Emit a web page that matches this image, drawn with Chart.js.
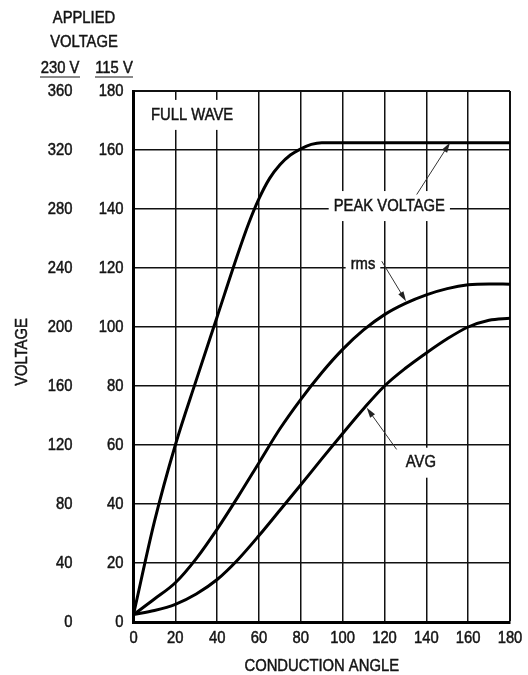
<!DOCTYPE html>
<html lang="en">
<head>
    <meta charset="UTF-8">
    <title>Applied voltage vs conduction angle</title>
    <script src="https://cdn.jsdelivr.net/npm/chart.js"></script>
    <style>
        html, body { margin: 0; padding: 0; background: #fff; }
        .wrap { position: relative; width: 528px; height: 675px; }
    </style>
</head>
<body>
    <div class="wrap">
        <canvas id="voltChart" width="528" height="675"></canvas>
    </div>

<script>
    // values (115 V scale)
    const angles = [0, 10, 20, 30, 40, 50, 60, 70, 80, 90, 100, 110, 120, 130, 140, 150, 160, 170, 180];

    const peakAngles = [0, 10, 20, 30, 40, 50, 55, 60, 65, 70, 75, 80, 85, 90, 120, 150, 180];
    const peakValues = [2.5, 34, 60, 82, 103.5, 125, 135, 143.5, 150.3, 155, 158.3, 160.4, 161.9, 162.5, 162.5, 162.5, 162.5];

    const rmsValues = [2.5, 7.8, 13.3, 21.5, 31.5, 42.5, 54, 65.5, 75.5, 84.5, 92.4, 99, 104.2, 108, 110.9, 113, 114.3, 114.6, 114.5];
    const avgValues = [2.5, 3.9, 6, 9.5, 14.4, 21.2, 29.3, 37.9, 46.5, 55.3, 63.9, 72.3, 80, 86, 91.2, 96, 100, 102.3, 103];

    const angleTicks = [0, 20, 40, 60, 80, 100, 120, 140, 160, 180];
    const volt115Ticks = [0, 20, 40, 60, 80, 100, 120, 140, 160, 180];
    const volt230Ticks = [0, 40, 80, 120, 160, 200, 240, 280, 320, 360];

    // labels inside the plot, in chart units
    const notes = [
        { text: 'FULL WAVE', x: 28, y: 171.9 },
        { text: 'PEAK VOLTAGE', x: 122.3, y: 141 },
        { text: 'rms', x: 109.7, y: 121.2 },
        { text: 'AVG', x: 137.4, y: 54 }
    ];
    const arrows = [
        { from: [135.4, 144.9], to: [151.3, 162.5] },
        { from: [118.7, 122.3], to: [130.3, 108.7] },
        { from: [125.8, 58.5], to: [111.5, 72.6] }
    ];

    const FONT = "17px 'Liberation Sans', Arial, sans-serif";
    const SQUEEZE = 0.87;   // the reference uses a condensed face
    const INK = '#141414';

    function toPoints(xs, ys) {
        return xs.map((x, i) => ({ x: x, y: ys[i] }));
    }

    function gridWidth(ctx) {
        return ctx.tick && ctx.tick.value === 180 ? 2 : 1.5;
    }

    function narrowText(ctx, text, x, y, align) {
        ctx.save();
        ctx.translate(x, y);
        ctx.scale(SQUEEZE, 1);
        ctx.textAlign = align || 'center';
        ctx.lineWidth = 0.5;
        ctx.strokeStyle = INK;
        ctx.fillText(text, 0, 0);
        ctx.strokeText(text, 0, 0);
        ctx.restore();
    }

    const extraText = {
        id: 'extraText',
        beforeDatasetsDraw(chart) {
            const ctx = chart.ctx;
            const sx = chart.scales.x, sy = chart.scales.y;
            ctx.save();
            ctx.font = FONT;
            ctx.textBaseline = 'middle';
            notes.forEach(n => {
                const px = sx.getPixelForValue(n.x);
                const py = sy.getPixelForValue(n.y);
                const w = ctx.measureText(n.text).width * SQUEEZE;
                ctx.fillStyle = '#fff';
                ctx.fillRect(px - w / 2 - 5, py - 15, w + 10, 30);
                ctx.fillStyle = INK;
                narrowText(ctx, n.text, px, py);
            });
            ctx.restore();
        },
        afterDraw(chart) {
            const ctx = chart.ctx;
            const sx = chart.scales.x, sy = chart.scales.y, sy2 = chart.scales.y2;
            ctx.save();

            // arrows
            ctx.strokeStyle = '#333';
            ctx.fillStyle = '#222';
            ctx.lineWidth = 1;
            arrows.forEach(a => {
                const x1 = sx.getPixelForValue(a.from[0]), y1 = sy.getPixelForValue(a.from[1]);
                const x2 = sx.getPixelForValue(a.to[0]), y2 = sy.getPixelForValue(a.to[1]);
                const ang = Math.atan2(y2 - y1, x2 - x1);
                ctx.beginPath();
                ctx.moveTo(x1, y1);
                ctx.lineTo(x2 - 8 * Math.cos(ang), y2 - 8 * Math.sin(ang));
                ctx.stroke();
                ctx.beginPath();
                ctx.moveTo(x2, y2);
                ctx.lineTo(x2 - 10 * Math.cos(ang) + 3 * Math.sin(ang), y2 - 10 * Math.sin(ang) - 3 * Math.cos(ang));
                ctx.lineTo(x2 - 10 * Math.cos(ang) - 3 * Math.sin(ang), y2 - 10 * Math.sin(ang) + 3 * Math.cos(ang));
                ctx.closePath();
                ctx.fill();
            });

            ctx.fillStyle = INK;
            ctx.font = FONT;
            ctx.textBaseline = 'middle';

            // tick labels, condensed, placed through the chart scales
            sx.ticks.forEach(t => narrowText(ctx, String(t.value), sx.getPixelForValue(t.value), 638));
            sy.ticks.forEach(t => narrowText(ctx, String(t.value), sy.right - 10, sy.getPixelForValue(t.value), 'right'));
            sy2.ticks.forEach(t => narrowText(ctx, String(t.value), sy2.right - 11, sy2.getPixelForValue(t.value), 'right'));

            narrowText(ctx, 'CONDUCTION ANGLE', (chart.chartArea.left + chart.chartArea.right) / 2, 666);

            // header over the two voltage columns
            narrowText(ctx, 'APPLIED', 84, 18);
            narrowText(ctx, 'VOLTAGE', 84, 42);
            narrowText(ctx, '230 V', 60, 68);
            narrowText(ctx, '115 V', 114, 68);
            ctx.strokeStyle = INK;
            ctx.lineWidth = 1.2;
            ctx.beginPath();
            ctx.moveTo(40, 77); ctx.lineTo(80, 77);
            ctx.moveTo(95, 77); ctx.lineTo(133, 77);
            ctx.stroke();

            // rotated axis title
            ctx.translate(22, 352);
            ctx.rotate(-Math.PI / 2);
            narrowText(ctx, 'VOLTAGE', 0, 0);
            ctx.restore();
        }
    };

    const hiddenTicks = { color: 'rgba(0,0,0,0)', font: { size: 17 } };

    new Chart(document.getElementById('voltChart').getContext('2d'), {
        type: 'line',
        data: {
            datasets: [
                { label: 'PEAK VOLTAGE', data: toPoints(peakAngles, peakValues) },
                { label: 'rms', data: toPoints(angles, rmsValues) },
                { label: 'AVG', data: toPoints(angles, avgValues) }
            ].map(d => Object.assign(d, {
                borderColor: '#000',
                borderWidth: 3,
                pointRadius: 0,
                fill: false,
                cubicInterpolationMode: 'monotone',
                yAxisID: 'y'
            }))
        },
        options: {
            responsive: false,
            animation: false,
            layout: { padding: { top: 91, right: 18, left: 0, bottom: 0 } },
            plugins: {
                legend: { display: false },
                tooltip: { enabled: false }
            },
            scales: {
                x: {
                    type: 'linear',
                    min: 0,
                    max: 180,
                    afterBuildTicks: s => { s.ticks = angleTicks.map(v => ({ value: v })); },
                    ticks: hiddenTicks,
                    grid: { color: '#111', lineWidth: gridWidth, drawTicks: false },
                    border: { color: '#000', width: 3 },
                    afterFit: s => { s.height = 53; }
                },
                y: {
                    type: 'linear',
                    position: 'left',
                    weight: 0,
                    min: 0,
                    max: 180,
                    afterBuildTicks: s => { s.ticks = volt115Ticks.map(v => ({ value: v })); },
                    ticks: hiddenTicks,
                    grid: { color: '#111', lineWidth: gridWidth, drawTicks: false },
                    border: { color: '#000', width: 3 },
                    afterFit: s => { s.width = 50; }
                },
                y2: {
                    type: 'linear',
                    position: 'left',
                    weight: 1,
                    min: 0,
                    max: 360,
                    afterBuildTicks: s => { s.ticks = volt230Ticks.map(v => ({ value: v })); },
                    ticks: hiddenTicks,
                    grid: { display: false, drawTicks: false },
                    border: { display: false },
                    afterFit: s => { s.width = 83.5; }
                }
            }
        },
        plugins: [extraText]
    });
</script>
</body>
</html>
